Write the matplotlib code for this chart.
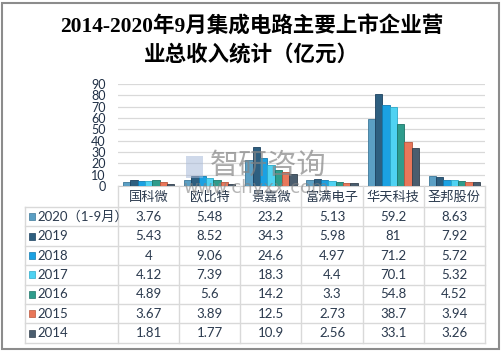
import matplotlib.pyplot as plt
import numpy as np
from matplotlib.patches import Rectangle

plt.rcParams['font.family'] = ['Lato', 'Noto Sans CJK SC', 'DejaVu Sans']

# data
companies = ['国科微', '欧比特', '景嘉微', '富满电子', '华天科技', '圣邦股份']
years = ['2020（1-9月）', '2019', '2018', '2017', '2016', '2015', '2014']
v2020 = [3.76, 5.48, 23.2, 5.13, 59.2, 8.63]
v2019 = [5.43, 8.52, 34.3, 5.98, 81, 7.92]
v2018 = [4, 9.06, 24.6, 4.97, 71.2, 5.72]
v2017 = [4.12, 7.39, 18.3, 4.4, 70.1, 5.32]
v2016 = [4.89, 5.6, 14.2, 3.3, 54.8, 4.52]
v2015 = [3.67, 3.89, 12.5, 2.73, 38.7, 3.94]
v2014 = [1.81, 1.77, 10.9, 2.56, 33.1, 3.26]
series = [v2020, v2019, v2018, v2017, v2016, v2015, v2014]
labels = [['3.76', '5.48', '23.2', '5.13', '59.2', '8.63'],
          ['5.43', '8.52', '34.3', '5.98', '81', '7.92'],
          ['4', '9.06', '24.6', '4.97', '71.2', '5.72'],
          ['4.12', '7.39', '18.3', '4.4', '70.1', '5.32'],
          ['4.89', '5.6', '14.2', '3.3', '54.8', '4.52'],
          ['3.67', '3.89', '12.5', '2.73', '38.7', '3.94'],
          ['1.81', '1.77', '10.9', '2.56', '33.1', '3.26']]
colors = ['#5B9FC4', '#2E5F80', '#1BA1E2', '#4FD2F2', '#2E9C8C', '#E9775A', '#4A5D6E']
edges = ['#3E7899', '#1D4260', '#117BB0', '#2CA9C8', '#1E7468', '#B9573D', '#33414E']

W, H = 503, 354
fig = plt.figure(figsize=(W / 100, H / 100), dpi=100)

def box(l, t, r, b):
    return [l / W, 1 - b / H, (r - l) / W, (b - t) / H]

# outer border
fig.patches.append(Rectangle((2 / W, 5 / H), 497 / W, 346 / H, transform=fig.transFigure,
                             fill=False, edgecolor='#8C8C8C', linewidth=1.5))

# title
fig.text(0.5, 1 - 27 / H, '2014-2020年9月集成电路主要上市企业营', ha='center', va='center',
         fontsize=15.5, fontweight='bold', family=['Liberation Serif', 'Noto Sans CJK SC'])
fig.text(0.5, 1 - 55 / H, '业总收入统计（亿元）', ha='center', va='center',
         fontsize=15.5, fontweight='bold', family=['Liberation Serif', 'Noto Sans CJK SC'])

# bar chart
ax = fig.add_axes(box(118, 84, 485, 186))
x = np.arange(len(companies))
bw = 0.12
for i, vals in enumerate(series):
    ax.bar(x + (i - 3) * bw, vals, width=bw, color=colors[i], edgecolor=edges[i],
           linewidth=0.6, zorder=3)
ax.set_xlim(-0.5, 5.5)
ax.set_ylim(0, 90)
ax.set_yticks(range(0, 91, 10))
ax.set_yticklabels([str(t) for t in range(0, 91, 10)], fontsize=9, color='#1F2F45')
ax.set_xticks([])
ax.grid(axis='y', color='#D9D9D9', linewidth=0.9, zorder=0)
for s in ['top', 'right', 'left']:
    ax.spines[s].set_visible(False)
ax.spines['bottom'].set_color('#D0D0D0')
ax.tick_params(axis='y', length=0, pad=9)

# data table
tax = fig.add_axes(box(25, 186, 485, 343))
leg_w = 93 / 61.2
tax.set_xlim(-0.5 - leg_w, 5.5)
tax.set_ylim(157, 0)
tax.axis('off')
row_h = 19.4
hdr = 21
gc = '#D9D9D9'
xl = -0.5 - leg_w
for k in range(8):
    yy = hdr + k * row_h
    tax.plot([xl, 5.5], [yy, yy], color=gc, lw=1, clip_on=False)
tax.plot([xl, xl], [hdr, 157], color=gc, lw=1, clip_on=False)
for c in range(7):
    tax.plot([c - 0.5, c - 0.5], [0, 157], color=gc, lw=1, clip_on=False)
tc = '#2B3A4E'
for c, name in enumerate(companies):
    tax.text(c, hdr / 2 + 1, name, ha='center', va='center', fontsize=9.5, color=tc,
             family=['Noto Sans CJK SC'])
for r in range(7):
    yc = hdr + (r + 0.5) * row_h
    tax.add_patch(Rectangle((xl + 0.06, yc - 3.5), 0.11, 7, facecolor=colors[r],
                            edgecolor=edges[r], lw=0.5, clip_on=False))
    tax.text(xl + 0.2, yc, years[r], ha='left', va='center', fontsize=9.5, color=tc)
    for c in range(6):
        tax.text(c, yc, labels[r][c], ha='center', va='center', fontsize=9.5, color=tc)

# watermark
fig.text(210 / W, 1 - 166 / H, '智研咨询', ha='left', va='center', fontsize=21,
         color='#858585', alpha=0.7, family=['Noto Sans CJK SC'], zorder=10)
fig.text(183 / W, 1 - 188 / H, 'www.chyxx.com', ha='left', va='center', fontsize=13,
         color='#858585', alpha=0.6, family=['DejaVu Sans'], zorder=10)
fig.patches.append(Rectangle((186 / W, 1 - 178 / H), 17 / W, 22 / H, transform=fig.transFigure,
                             facecolor='#A9BBDA', alpha=0.55, edgecolor='none', zorder=10))

plt.savefig('out.png', dpi=100)
